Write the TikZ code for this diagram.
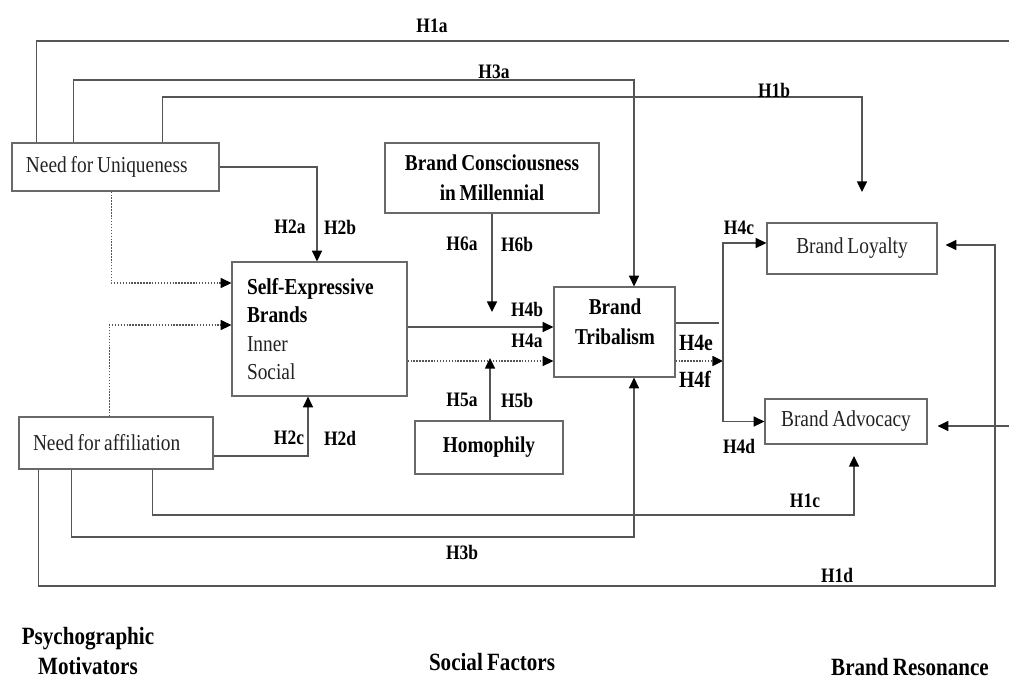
\documentclass[tikz,border=0pt]{standalone}
\usepackage{fontspec}
\setmainfont{Liberation Serif}[FakeStretch=0.85, WordSpace=0.8]
\usetikzlibrary{arrows.meta,calc}
\definecolor{linegray}{RGB}{85,85,85}
\definecolor{boxgray}{RGB}{105,105,105}
\definecolor{txtgray}{RGB}{35,35,35}
\tikzset{
  box/.style={draw=boxgray, line width=0.9pt, inner sep=0pt, text=txtgray},
  regtext/.style={font=\fontsize{17.1pt}{21.4pt}\selectfont},
  boldtext/.style={font=\fontsize{17pt}{22.5pt}\selectfont\bfseries, text=black},
  lbl/.style={font=\fontsize{15.4pt}{18pt}\selectfont\bfseries, inner sep=0pt},
  biglbl/.style={font=\fontsize{17.4pt}{20pt}\selectfont\bfseries, inner sep=0pt},
  bottomlbl/.style={font=\fontsize{18.6pt}{23pt}\selectfont\bfseries, inner sep=0pt, align=center},
  conn/.style={draw=linegray, line width=1.1pt},
  arr/.style={conn, -{Triangle[length=8pt,width=7.5pt,color=black]}},
  dotarr/.style={arr, dash pattern=on 1.1pt off 1.1pt}
}
\begin{document}
\begin{tikzpicture}[x=0.75pt,y=-0.75pt]
\useasboundingbox (0,0) rectangle (1009,682);

% boxes
\node[box, regtext, minimum width=155.25pt, minimum height=36pt, inner xsep=10.5pt,
      text width=134.25pt, align=flush left] (nfu) at (115.5,167) {Need for Uniqueness};
\node[box, regtext, minimum width=145.5pt, minimum height=39pt, inner xsep=10.5pt,
      text width=124.5pt, align=flush left] (nfa) at (116,443) {Need for affiliation};
\node[box, regtext, minimum width=131.25pt, minimum height=100.5pt, inner xsep=11.25pt,
      text width=108.75pt, align=flush left] (seb) at (319.5,329)
      {\textbf{\textcolor{black}{Self-Expressive}}\\ \textbf{\textcolor{black}{Brands}}\\ Inner\\ Social};
\node[box, boldtext, minimum width=160.5pt, minimum height=52.5pt, align=center] (bc) at (492,178)
      {Brand Consciousness\\ in Millennial};
\node[box, minimum width=90.75pt, minimum height=67.5pt] (bt) at (614.5,332) {};
\node[boldtext, align=center, inner sep=0pt] (btt) at (615,322) {Brand\\ Tribalism};
\node[box, boldtext, minimum width=111pt, minimum height=39.75pt] (hom) at (489,447.5) {Homophily};
\node[box, regtext, minimum width=127.5pt, minimum height=38.25pt] (bl) at (852,248.5) {Brand Loyalty};
\node[box, regtext, minimum width=121.5pt, minimum height=33.75pt] (ba) at (846,421.5) {Brand Advocacy};

% helper coordinates
\coordinate (h1aend) at (1009,41);
\coordinate (h3ac) at (634,80);
\coordinate (h1bc) at (862,97);
\coordinate (h1bend) at (862,192);
\coordinate (h6end) at (492,312);
\coordinate (h5end) at (490,358);
\coordinate (h3bc) at (634,537);
\coordinate (h1cc) at (854,515);
\coordinate (h1cend) at (854,456);
\coordinate (h1dc) at (995,586);
\coordinate (baright) at (1009,426);
\coordinate (btline) at (719,323);
\coordinate (split) at (723,361);

% connectors from Need for Uniqueness
\draw[conn] ($(nfu.north west)+(25,0)$) |- (h1aend);
\draw[arr] ($(nfu.north west)+(62,0)$) |- (h3ac) -- (h3ac |- bt.north);
\draw[arr] ($(nfu.north west)+(151,0)$) |- (h1bc) -- (h1bend);
\draw[arr] (nfu.east) -| ($(seb.north)+(-2.5,0)$);
\draw[dotarr] ($(nfu.south west)+(100,0)$) |- ($(seb.west)+(0,-46)$);

% connectors from Need for affiliation
\draw[dotarr] ($(nfa.north west)+(91,0)$) |- ($(seb.west)+(0,-4)$);
\draw[arr] ($(nfa.east)+(0,13)$) -| ($(seb.south)+(-11.5,0)$);
\draw[arr] ($(nfa.south west)+(53,0)$) |- (h3bc) -- (h3bc |- bt.south);
\draw[arr] ($(nfa.south west)+(134,0)$) |- (h1cc) -- (h1cend);
\draw[arr, shorten >=6pt] ($(nfa.south west)+(20,0)$) |- (h1dc) |- ($(bl.east)+(0,-3.5)$);
\draw[arr, shorten >=7.5pt] (baright) -- ($(ba.east)+(0,4.5)$);

% middle
\draw[arr] ($(seb.east)+(0,-2)$) -- ($(bt.west)+(0,-5)$);
\draw[dotarr] ($(seb.east)+(0,32)$) -- ($(bt.west)+(0,29)$);
\draw[arr] (bc.south) -- (h6end);
\draw[arr] ($(hom.north)+(1,0)$) -- (h5end);

% right part
\draw[conn] ($(bt.east)+(0,-9)$) -- (btline);
\draw[dotarr] ($(bt.east)+(0,29)$) -- (split);
\draw[arr] (split) |- ($(bl.west)+(0,-5.5)$);
\draw[arr] (split) |- (ba.west);

% labels
\node[lbl] (lh1a) at (432,26) {H1a};
\node[lbl] (lh3a) at (494,72) {H3a};
\node[lbl] (lh1b) at (774,90) {H1b};
\node[lbl] (lh2a) at (290,227) {H2a};
\node[lbl] (lh2b) at (340,227) {H2b};
\node[lbl] (lh6a) at (462,244) {H6a};
\node[lbl] (lh6b) at (517,244) {H6b};
\node[lbl] (lh4b) at (527,309) {H4b};
\node[lbl] (lh4a) at (527,341) {H4a};
\node[lbl] (lh5a) at (462,400) {H5a};
\node[lbl] (lh5b) at (517,400) {H5b};
\node[lbl] (lh2c) at (289,438) {H2c};
\node[lbl] (lh2d) at (340,438) {H2d};
\node[lbl] (lh4c) at (739,228) {H4c};
\node[lbl] (lh4d) at (739,446) {H4d};
\node[biglbl] (lh4e) at (696,343) {H4e};
\node[biglbl] (lh4f) at (695,379) {H4f};
\node[lbl] (lh1c) at (805,501) {H1c};
\node[lbl] (lh3b) at (462,552) {H3b};
\node[lbl] (lh1d) at (837,575) {H1d};

% bottom categories
\node[bottomlbl] (psy) at (88,651) {Psychographic\\ Motivators};
\node[bottomlbl] (soc) at (492,662) {Social Factors};
\node[bottomlbl] (res) at (910,667) {Brand Resonance};
\end{tikzpicture}
\end{document}
